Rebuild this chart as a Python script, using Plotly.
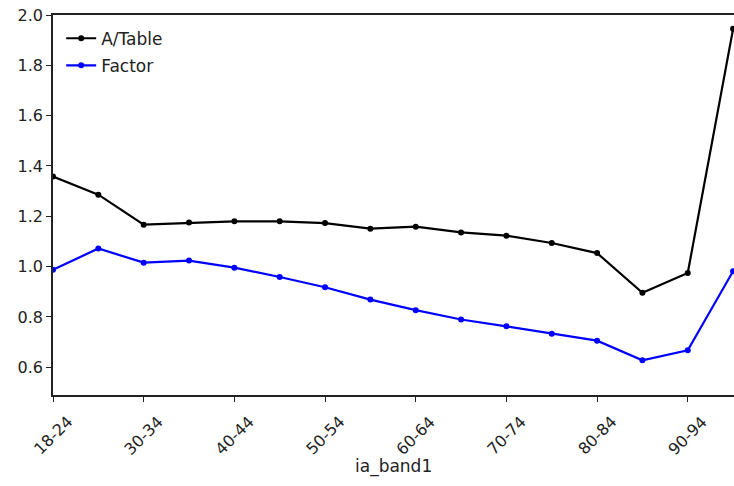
import plotly.graph_objects as go

bands = ["18-24", "25-29", "30-34", "35-39", "40-44", "45-49", "50-54", "55-59",
         "60-64", "65-69", "70-74", "75-79", "80-84", "85-89", "90-94", "95+"]
a_table = [1.358, 1.286, 1.167, 1.175, 1.180, 1.180, 1.173, 1.151,
           1.159, 1.136, 1.123, 1.094, 1.054, 0.896, 0.975, 1.945]
factor = [0.988, 1.072, 1.016, 1.024, 0.996, 0.959, 0.918, 0.869,
          0.827, 0.790, 0.763, 0.733, 0.706, 0.628, 0.668, 0.982]
tick_labels = bands[0:15:2]
y_ticks = [0.6, 0.8, 1.0, 1.2, 1.4, 1.6, 1.8, 2.0]

FONT = "DejaVu Sans"
fig = go.Figure()
fig.add_trace(go.Scatter(x=bands, y=a_table, name="A/Table", mode="lines+markers",
                         legendgroup="a",
                         line=dict(color="black", width=2.2),
                         marker=dict(color="black", size=6)))
fig.add_trace(go.Scatter(x=bands, y=factor, name="Factor", mode="lines+markers",
                         legendgroup="f",
                         line=dict(color="blue", width=2.2),
                         marker=dict(color="blue", size=6)))

for lab in tick_labels:
    fig.add_annotation(x=lab, y=0, xref="x", yref="paper", text=lab, showarrow=False,
                       textangle=-45, xanchor="center", yanchor="top", yshift=-14,
                       font=dict(family=FONT, size=16, color="#222"))
fig.add_annotation(x=0.5, y=0, xref="paper", yref="paper", text="ia_band1", showarrow=False,
                   xanchor="center", yanchor="middle", yshift=-71,
                   font=dict(family=FONT, size=17, color="#222"))

fig.update_layout(
    width=734, height=486,
    margin=dict(l=53, r=0, t=15, b=91),
    paper_bgcolor="white", plot_bgcolor="white",
    font=dict(family=FONT, size=16, color="#222"),
    showlegend=True,
    legend=dict(x=0.012, y=0.985, xanchor="left", yanchor="top",
                bgcolor="rgba(255,255,255,0)", borderwidth=0, traceorder="grouped",
                font=dict(family=FONT, size=17, color="#222"), tracegroupgap=2),
    xaxis=dict(type="category", range=[0, 15.02], showgrid=False, zeroline=False,
               showline=True, linecolor="#222", linewidth=1.5, mirror=True,
               ticks="outside", ticklen=5, tickcolor="#222",
               tickvals=tick_labels, showticklabels=False),
    yaxis=dict(range=[0.49, 2.0], showgrid=False, zeroline=False,
               showline=True, linecolor="#222", linewidth=1.5, mirror=False,
               ticks="outside", ticklen=5, tickcolor="#222",
               tickvals=y_ticks, ticktext=[f"{v:.1f}" for v in y_ticks],
               tickfont=dict(family=FONT, size=16)),
)
fig.write_html("out.html")
